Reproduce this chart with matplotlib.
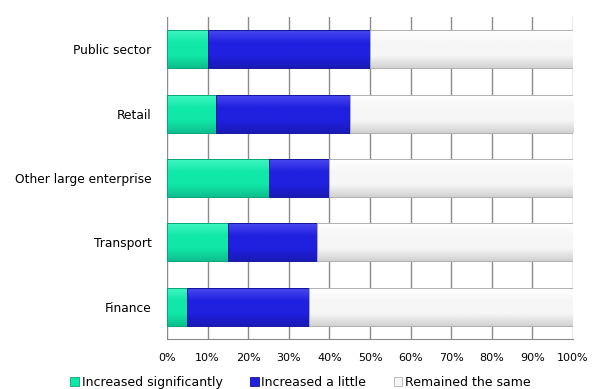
import numpy as np
import matplotlib.pyplot as plt
from matplotlib.colors import LinearSegmentedColormap
from matplotlib.patches import Patch

# share of respondents per sector (%)
sectors = ["Public sector", "Retail", "Other large enterprise", "Transport", "Finance"]
inc_sig = [10, 12, 25, 15, 5]
inc_little = [40, 33, 15, 22, 30]
same = [100 - a - b for a, b in zip(inc_sig, inc_little)]
series_names = ["Increased significantly", "Increased a little", "Remained the same"]
xticks = list(range(0, 101, 10))

# (top colour, mid colour, bottom colour) for the bar shading
shades = [
    ("#3ff5c0", "#10e8a8", "#0cbf8c"),
    ("#4848f0", "#2020e0", "#1a1ab8"),
    ("#ffffff", "#f6f6f6", "#d2d2d2"),
]
edges = ["#0aa57a", "#15159a", "#b0b0b0"]

fig = plt.figure(figsize=(6.01, 3.89), dpi=100)
ax = fig.add_axes([0.2779, 0.1285, 0.6755, 0.8278])

y = np.arange(len(sectors))
h = 0.59
grad = np.linspace(0, 1, 64).reshape(-1, 1)

left = np.zeros(len(sectors))
for vals, sh, ec in zip([inc_sig, inc_little, same], shades, edges):
    cmap = LinearSegmentedColormap.from_list("s", [sh[0], sh[1], sh[1], sh[2]])
    bars = ax.barh(y, vals, left=left, height=h, color=sh[1], linewidth=0, zorder=3)
    for b in bars:
        x0, y0 = b.get_x(), b.get_y()
        # y axis is inverted, so the first row goes to the visual top
        ax.imshow(grad, cmap=cmap, aspect="auto", zorder=3.5,
                  extent=(x0, x0 + b.get_width(), y0 + b.get_height(), y0))
    # outline on top of the shading
    ax.barh(y, vals, left=left, height=h, fill=False, edgecolor=ec,
            linewidth=0.7, zorder=4)
    left += np.array(vals)

ax.set_xlim(0, 100)
ax.set_ylim(len(sectors) - 0.5, -0.5)
ax.set_yticks(y)
ax.set_yticklabels(sectors, fontsize=8.8)
ax.set_xticks(xticks)
ax.set_xticklabels([f"{t}%" for t in xticks], fontsize=8)
ax.tick_params(axis="y", length=0, pad=11)
ax.tick_params(axis="x", length=0, pad=10)
ax.grid(axis="x", color="#8a8a8a", linewidth=1, zorder=0)
for s in ["top", "left", "right"]:
    ax.spines[s].set_visible(False)
ax.spines["bottom"].set_color("#8a8a8a")

handles = [Patch(facecolor=sh[1], edgecolor=ec, linewidth=0.6)
           for sh, ec in zip(shades, edges)]
fig.legend(handles, series_names, loc="lower center", ncol=3, frameon=False,
           fontsize=9, bbox_to_anchor=(0.5, -0.028), handlelength=0.7,
           handleheight=0.7, handletextpad=0.2, columnspacing=2.2)

plt.savefig("out.png", dpi=100)
